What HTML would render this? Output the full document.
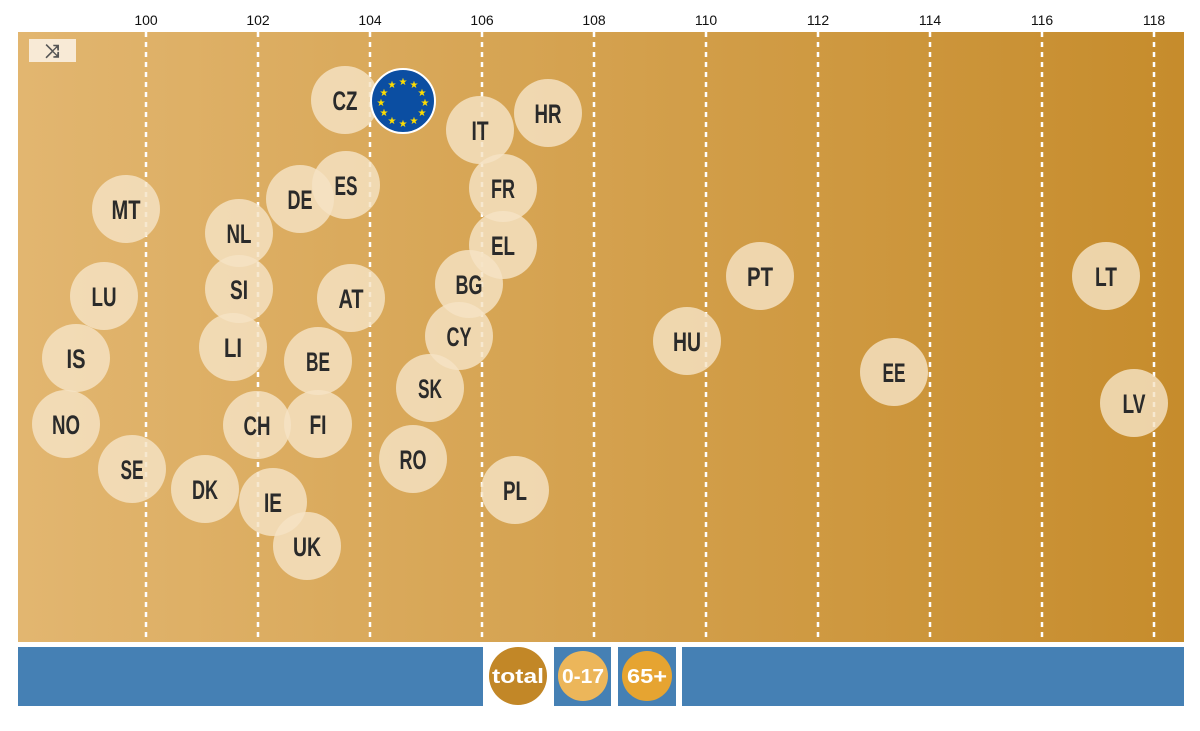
<!DOCTYPE html>
<html><head><meta charset="utf-8"><style>
body{margin:0;width:1200px;height:726px;background:#fff;overflow:hidden;font-family:"Liberation Sans",sans-serif}
</style></head><body>
<svg width="1200" height="726" xmlns="http://www.w3.org/2000/svg">
<defs><linearGradient id="g" x1="0" x2="1"><stop offset="0" stop-color="#e2b670"/><stop offset="1" stop-color="#c68c2c"/></linearGradient></defs>
<rect x="18" y="32" width="1166" height="610" fill="url(#g)"/>
<g stroke="#fff" stroke-width="2.5" stroke-dasharray="5,5">
<line x1="146" y1="32" x2="146" y2="642"/><line x1="258" y1="32" x2="258" y2="642"/><line x1="370" y1="32" x2="370" y2="642"/><line x1="482" y1="32" x2="482" y2="642"/><line x1="594" y1="32" x2="594" y2="642"/><line x1="706" y1="32" x2="706" y2="642"/><line x1="818" y1="32" x2="818" y2="642"/><line x1="930" y1="32" x2="930" y2="642"/><line x1="1042" y1="32" x2="1042" y2="642"/><line x1="1154" y1="32" x2="1154" y2="642"/>
</g>
<g font-size="14" text-anchor="middle" fill="#111">
<text x="146" y="25">100</text><text x="258" y="25">102</text><text x="370" y="25">104</text><text x="482" y="25">106</text><text x="594" y="25">108</text><text x="706" y="25">110</text><text x="818" y="25">112</text><text x="930" y="25">114</text><text x="1042" y="25">116</text><text x="1154" y="25">118</text>
</g>
<rect x="29" y="39" width="47" height="23" fill="#f8ead6"/>
<text x="52" y="57" font-size="18" text-anchor="middle" fill="#555" font-weight="bold">⤨</text>
<g fill="#f5e3c5" fill-opacity="0.82">
<circle cx="345" cy="100" r="34"/><circle cx="480" cy="130" r="34"/><circle cx="548" cy="113" r="34"/><circle cx="126" cy="209" r="34"/><circle cx="300" cy="199" r="34"/><circle cx="346" cy="185" r="34"/><circle cx="503" cy="188" r="34"/><circle cx="239" cy="233" r="34"/><circle cx="503" cy="245" r="34"/><circle cx="760" cy="276" r="34"/><circle cx="1106" cy="276" r="34"/><circle cx="104" cy="296" r="34"/><circle cx="239" cy="289" r="34"/><circle cx="351" cy="298" r="34"/><circle cx="469" cy="284" r="34"/><circle cx="687" cy="341" r="34"/><circle cx="76" cy="358" r="34"/><circle cx="233" cy="347" r="34"/><circle cx="318" cy="361" r="34"/><circle cx="459" cy="336" r="34"/><circle cx="430" cy="388" r="34"/><circle cx="894" cy="372" r="34"/><circle cx="1134" cy="403" r="34"/><circle cx="66" cy="424" r="34"/><circle cx="257" cy="425" r="34"/><circle cx="318" cy="424" r="34"/><circle cx="413" cy="459" r="34"/><circle cx="132" cy="469" r="34"/><circle cx="205" cy="489" r="34"/><circle cx="273" cy="502" r="34"/><circle cx="515" cy="490" r="34"/><circle cx="307" cy="546" r="34"/>
</g>
<g font-family="'Liberation Sans',sans-serif" font-weight="bold" font-size="27" text-anchor="middle" fill="#2a2a2a" lengthAdjust="spacingAndGlyphs">
<text x="345" y="110" textLength="25" lengthAdjust="spacingAndGlyphs">CZ</text><text x="480" y="140" textLength="17" lengthAdjust="spacingAndGlyphs">IT</text><text x="548" y="123" textLength="27" lengthAdjust="spacingAndGlyphs">HR</text><text x="126" y="219" textLength="29" lengthAdjust="spacingAndGlyphs">MT</text><text x="300" y="209" textLength="25" lengthAdjust="spacingAndGlyphs">DE</text><text x="346" y="195" textLength="23" lengthAdjust="spacingAndGlyphs">ES</text><text x="503" y="198" textLength="24" lengthAdjust="spacingAndGlyphs">FR</text><text x="239" y="243" textLength="25" lengthAdjust="spacingAndGlyphs">NL</text><text x="503" y="255" textLength="24" lengthAdjust="spacingAndGlyphs">EL</text><text x="760" y="286" textLength="26" lengthAdjust="spacingAndGlyphs">PT</text><text x="1106" y="286" textLength="22" lengthAdjust="spacingAndGlyphs">LT</text><text x="104" y="306" textLength="25" lengthAdjust="spacingAndGlyphs">LU</text><text x="239" y="299" textLength="18" lengthAdjust="spacingAndGlyphs">SI</text><text x="351" y="308" textLength="25" lengthAdjust="spacingAndGlyphs">AT</text><text x="469" y="294" textLength="27" lengthAdjust="spacingAndGlyphs">BG</text><text x="687" y="351" textLength="28" lengthAdjust="spacingAndGlyphs">HU</text><text x="76" y="368" textLength="19" lengthAdjust="spacingAndGlyphs">IS</text><text x="233" y="357" textLength="18" lengthAdjust="spacingAndGlyphs">LI</text><text x="318" y="371" textLength="24" lengthAdjust="spacingAndGlyphs">BE</text><text x="459" y="346" textLength="25" lengthAdjust="spacingAndGlyphs">CY</text><text x="430" y="398" textLength="24" lengthAdjust="spacingAndGlyphs">SK</text><text x="894" y="382" textLength="23" lengthAdjust="spacingAndGlyphs">EE</text><text x="1134" y="413" textLength="23" lengthAdjust="spacingAndGlyphs">LV</text><text x="66" y="434" textLength="28" lengthAdjust="spacingAndGlyphs">NO</text><text x="257" y="435" textLength="27" lengthAdjust="spacingAndGlyphs">CH</text><text x="318" y="434" textLength="17" lengthAdjust="spacingAndGlyphs">FI</text><text x="413" y="469" textLength="27" lengthAdjust="spacingAndGlyphs">RO</text><text x="132" y="479" textLength="23" lengthAdjust="spacingAndGlyphs">SE</text><text x="205" y="499" textLength="26" lengthAdjust="spacingAndGlyphs">DK</text><text x="273" y="512" textLength="18" lengthAdjust="spacingAndGlyphs">IE</text><text x="515" y="500" textLength="24" lengthAdjust="spacingAndGlyphs">PL</text><text x="307" y="556" textLength="28" lengthAdjust="spacingAndGlyphs">UK</text>
</g>
<circle cx="403" cy="101" r="32" fill="#0b4ea2" stroke="#fff" stroke-width="2"/>
<g fill="#ffdd00" font-size="10" text-anchor="middle">
<text x="403" y="85">★</text><text x="414" y="88">★</text><text x="422" y="96">★</text><text x="425" y="106">★</text><text x="422" y="116">★</text><text x="414" y="124">★</text><text x="403" y="127">★</text><text x="392" y="124">★</text><text x="384" y="116">★</text><text x="381" y="106">★</text><text x="384" y="96">★</text><text x="392" y="88">★</text>
</g>
<rect x="18" y="647" width="465" height="59" fill="#4580b4"/>
<rect x="554" y="647" width="57" height="59" fill="#4580b4"/>
<rect x="618" y="647" width="58" height="59" fill="#4580b4"/>
<rect x="682" y="647" width="502" height="59" fill="#4580b4"/>
<circle cx="518" cy="676" r="29" fill="#c28727"/>
<circle cx="583" cy="676" r="25" fill="#ecb65a"/>
<circle cx="647" cy="676" r="25" fill="#e6a431"/>
<g font-weight="bold" fill="#fff" text-anchor="middle" font-size="20">
<text x="518" y="683" textLength="52" lengthAdjust="spacingAndGlyphs">total</text><text x="583" y="683" textLength="42" lengthAdjust="spacingAndGlyphs">0-17</text><text x="647" y="683" textLength="40" lengthAdjust="spacingAndGlyphs">65+</text>
</g>
</svg>
</body></html>
